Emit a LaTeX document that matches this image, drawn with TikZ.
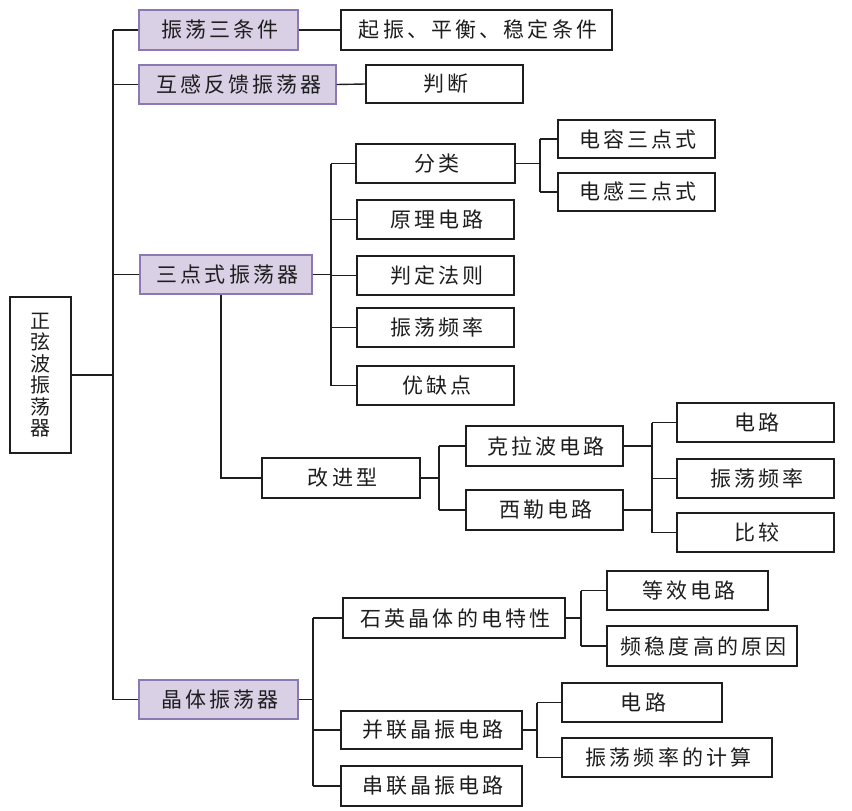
\documentclass[tikz,border=0pt]{standalone}
\usepackage{fontspec}
\setmainfont[LetterSpace=15]{Noto Sans CJK SC}
\newfontfamily\rootfont{Noto Sans CJK SC}
\definecolor{lav}{HTML}{D9D0E6}
\definecolor{lavb}{HTML}{8C79B2}
\definecolor{ink}{HTML}{1E1E1E}
\tikzset{
  box/.style={draw=ink, line width=1.4pt, fill=white, inner sep=0pt,
    font=\fontsize{21}{25}\selectfont, text=ink,
    execute at begin node={\hspace{3.1pt}}},
  pbox/.style={box, draw=lavb, fill=lav},
  conn/.style={line width=1.4pt, draw=ink},
}
\newcommand{\boxat}[7]{\node[#1, minimum width={#5-#3}, minimum height={#6-#4}] (#2) at ({(#3+#5)/2},{(#4+#6)/2}) {#7};}
\begin{document}
\begin{tikzpicture}[x=1pt,y=-1pt]
\useasboundingbox (0,0) rectangle (852,811);
% trunk coordinates
\coordinate (T0) at (113,0);
\coordinate (T3) at (331,0);
\coordinate (TD) at (540,0);
\coordinate (TG) at (439,0);
\coordinate (TH) at (652,0);
\coordinate (TJ) at (313,0);
\coordinate (TK) at (581,0);
\coordinate (TL) at (537,0);
% nodes
\node[draw=ink, line width=1.4pt, fill=white, inner sep=0pt, text=ink,
  minimum width=61, minimum height=156, align=center,
  font=\rootfont\fontsize{20}{21.5}\selectfont] (root) at (40.5,375) {正\\弦\\波\\振\\荡\\器};
\boxat{pbox}{A1}{139}{10}{298}{50}{振荡三条件}
\boxat{pbox}{A2}{139}{65}{336}{104}{互感反馈振荡器}
\boxat{pbox}{A3}{140}{255}{312}{294}{三点式振荡器}
\boxat{pbox}{A4}{139}{680}{298}{719}{晶体振荡器}
\boxat{box}{B1}{341}{10}{612}{50}{起振、平衡、稳定条件}
\boxat{box}{B2}{366}{65}{523}{103}{判断}
\boxat{box}{C1}{356}{144}{515}{183}{分类}
\boxat{box}{C2}{357}{200}{514}{239}{原理电路}
\boxat{box}{C3}{357}{256}{514}{295}{判定法则}
\boxat{box}{C4}{357}{308}{514}{347}{振荡频率}
\boxat{box}{C5}{357}{366}{514}{405}{优缺点}
\boxat{box}{D1}{558}{120}{715}{158}{电容三点式}
\boxat{box}{D2}{558}{173}{715}{211}{电感三点式}
\boxat{box}{G}{262}{458}{420}{498}{改进型}
\boxat{box}{H1}{466}{426}{623}{466}{克拉波电路}
\boxat{box}{H2}{466}{490}{623}{530}{西勒电路}
\boxat{box}{I1}{677}{403}{834}{442}{电路}
\boxat{box}{I2}{677}{459}{834}{498}{振荡频率}
\boxat{box}{I3}{677}{513}{834}{552}{比较}
\boxat{box}{J1}{343}{598}{565}{638}{石英晶体的电特性}
\boxat{box}{J2}{341}{711}{522}{749}{并联晶振电路}
\boxat{box}{J3}{341}{766}{522}{806}{串联晶振电路}
\boxat{box}{K1}{607}{571}{768}{610}{等效电路}
\boxat{box}{K2}{607}{626}{797}{666}{频稳度高的原因}
\boxat{box}{L1}{562}{683}{722}{722}{电路}
\boxat{box}{L2}{562}{738}{772}{777}{振荡频率的计算}
% connectors
\draw[conn] (root.east) -- (root.east -| T0);
\draw[conn] (T0 |- A1.west) -- (T0 |- A4.west);
\foreach \c in {A1,A2,A3,A4} \draw[conn] (T0 |- \c.west) -- (\c.west);
\draw[conn] (A1.east) -- (B1.west);
\draw[conn] (A2.east) -- (B2.west);
% three-point
\draw[conn] (A3.east) -- (A3.east -| T3);
\draw[conn] (T3 |- C1.west) -- (T3 |- C5.west);
\foreach \c in {C1,C2,C3,C4,C5} \draw[conn] (T3 |- \c.west) -- (\c.west);
\draw[conn] (C1.east) -- (C1.east -| TD);
\draw[conn] (TD |- D1.west) -- (TD |- D2.west);
\foreach \c in {D1,D2} \draw[conn] (TD |- \c.west) -- (\c.west);
\draw[conn] ([xshift=-5pt]A3.south) |- (G.west);
\draw[conn] (G.east) -- (G.east -| TG);
\draw[conn] (TG |- H1.west) -- (TG |- H2.west);
\foreach \c in {H1,H2} \draw[conn] (TG |- \c.west) -- (\c.west);
\draw[conn] (H1.east) -- (H1.east -| TH);
\draw[conn] (H2.east) -- (H2.east -| TH);
\draw[conn] (TH |- I1.west) -- (TH |- I3.west);
\foreach \c in {I1,I2,I3} \draw[conn] (TH |- \c.west) -- (\c.west);
% crystal
\draw[conn] (A4.east) -- (A4.east -| TJ);
\draw[conn] (TJ |- J1.west) -- (TJ |- J3.west);
\foreach \c in {J1,J2,J3} \draw[conn] (TJ |- \c.west) -- (\c.west);
\draw[conn] (J1.east) -- (J1.east -| TK);
\draw[conn] (TK |- K1.west) -- (TK |- K2.west);
\foreach \c in {K1,K2} \draw[conn] (TK |- \c.west) -- (\c.west);
\draw[conn] (J2.east) -- (J2.east -| TL);
\draw[conn] (TL |- L1.west) -- (TL |- L2.west);
\foreach \c in {L1,L2} \draw[conn] (TL |- \c.west) -- (\c.west);
\end{tikzpicture}
\end{document}
